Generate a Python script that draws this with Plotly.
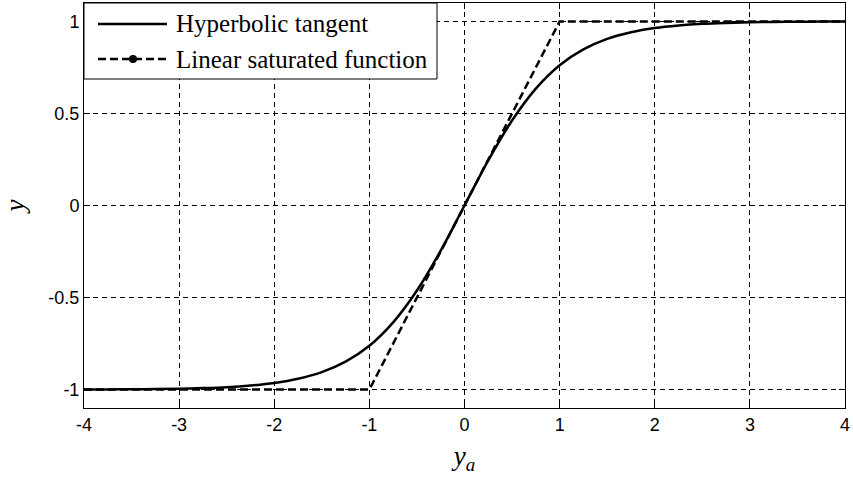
import plotly.graph_objects as go

# Hyperbolic tangent
tanh_x = [-4, -3.75, -3.5, -3.25, -3, -2.75, -2.5, -2.25, -2, -1.75, -1.5, -1.25, -1, -0.75, -0.5, -0.25,
          0, 0.25, 0.5, 0.75, 1, 1.25, 1.5, 1.75, 2, 2.25, 2.5, 2.75, 3, 3.25, 3.5, 3.75, 4]
tanh_y = [-0.999, -0.999, -0.998, -0.997, -0.995, -0.992, -0.987, -0.978, -0.964, -0.941, -0.905, -0.848,
          -0.762, -0.635, -0.462, -0.245, 0, 0.245, 0.462, 0.635, 0.762, 0.848, 0.905, 0.941, 0.964,
          0.978, 0.987, 0.992, 0.995, 0.997, 0.998, 0.999, 0.999]

# Linear saturated function
lin_x = [-4, -1, 1, 4]
lin_y = [-1, -1, 1, 1]

series_names = ["Hyperbolic tangent", "Linear saturated function"]

x_ticks = [-4, -3, -2, -1, 0, 1, 2, 3, 4]
y_ticks = [-1, -0.5, 0, 0.5, 1]
y_tick_text = ["-1", "-0.5", "0", "0.5", "1"]

W, H = 853, 481
ML, MR, MT, MB = 84, 8, 3, 73
PW, PH = W - ML - MR, H - MT - MB


def px_x(p):
    return (p - ML) / PW


def px_y(p):
    return (H - MB - p) / PH


fig = go.Figure()
fig.add_trace(go.Scatter(x=tanh_x, y=tanh_y, mode="lines", name=series_names[0],
                         line=dict(color="black", width=2.5, shape="spline"), showlegend=False))
fig.add_trace(go.Scatter(x=lin_x, y=lin_y, mode="lines", name=series_names[1],
                         line=dict(color="black", width=2.5, dash="8px,4px"), showlegend=False))

axis_common = dict(
    showline=True, linecolor="black", linewidth=1, mirror="ticks",
    ticks="inside", ticklen=6, tickcolor="black", tickwidth=1,
    showgrid=True, gridcolor="black", gridwidth=1, griddash="5px,4px",
    zeroline=False,
    tickfont=dict(family="Liberation Sans, Arial", size=18, color="black"),
)

fig.update_xaxes(range=[-4, 4], tickvals=x_ticks, ticktext=[str(v) for v in x_ticks],
                 title=dict(text="<i>y</i><sub><i>a</i></sub>",
                            font=dict(family="Liberation Serif, serif", size=27, color="black"),
                            standoff=12),
                 **axis_common)
fig.update_yaxes(range=[-1.1, 1.1], tickvals=y_ticks, ticktext=y_tick_text,
                 title=dict(text="<i>y</i>",
                            font=dict(family="Liberation Serif, serif", size=27, color="black"),
                            standoff=18),
                 **axis_common)

# Legend box (drawn by hand to match the long line samples of the original)
shapes = [
    dict(type="rect", xref="paper", yref="paper", x0=px_x(84), x1=px_x(437), y0=px_y(79), y1=px_y(3),
         fillcolor="white", line=dict(color="black", width=1), layer="above"),
    dict(type="line", xref="paper", yref="paper", x0=px_x(98), x1=px_x(167), y0=px_y(24), y1=px_y(24),
         line=dict(color="black", width=2.5), layer="above"),
    dict(type="line", xref="paper", yref="paper", x0=px_x(98), x1=px_x(167), y0=px_y(59), y1=px_y(59),
         line=dict(color="black", width=2.5, dash="8px,4px"), layer="above"),
    dict(type="circle", xref="paper", yref="paper", x0=px_x(129), x1=px_x(137), y0=px_y(63), y1=px_y(55),
         fillcolor="black", line=dict(color="black", width=0), layer="above"),
]
annotations = [
    dict(xref="paper", yref="paper", x=px_x(174), y=px_y(24), text=series_names[0], showarrow=False,
         xanchor="left", yanchor="middle",
         font=dict(family="Liberation Serif, serif", size=25, color="black")),
    dict(xref="paper", yref="paper", x=px_x(174), y=px_y(59), text=series_names[1], showarrow=False,
         xanchor="left", yanchor="middle",
         font=dict(family="Liberation Serif, serif", size=25, color="black")),
]

fig.update_layout(
    width=W, height=H,
    margin=dict(l=ML, r=MR, t=MT, b=MB),
    plot_bgcolor="white", paper_bgcolor="white",
    showlegend=False,
    shapes=shapes, annotations=annotations,
)

fig.write_html("out.html")
